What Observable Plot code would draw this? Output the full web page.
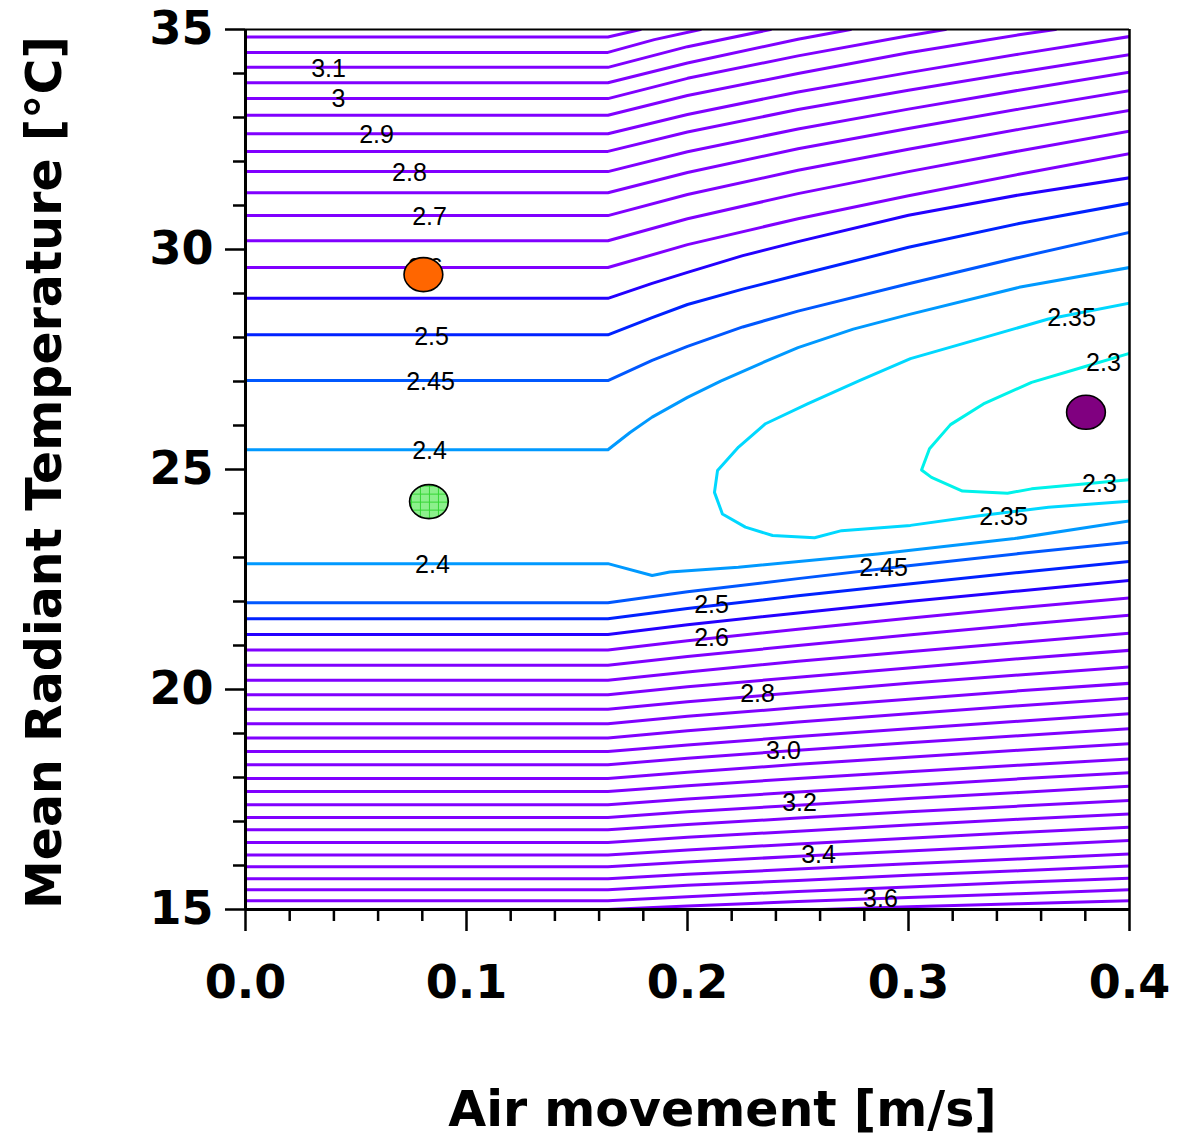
<!DOCTYPE html>
<html>
<head>
<meta charset="utf-8">
<script src="https://cdn.jsdelivr.net/npm/d3@7"></script>
<script src="https://cdn.jsdelivr.net/npm/@observablehq/plot@0.6"></script>
<style>
  body { margin: 0; background: #ffffff; }
  #chart svg { display: block; }
</style>
</head>
<body>
<svg width="0" height="0" style="position:absolute">
  <defs>
    <pattern id="greenGrid" width="9" height="8" patternUnits="userSpaceOnUse">
      <rect width="9" height="8" fill="#8cf08c"></rect>
      <path d="M0 0.5H9M0.5 0V8" stroke="#35d635" stroke-width="1"></path>
    </pattern>
  </defs>
</svg>
<div id="chart"></div>
<script>
// ---------- DATA ----------
// Air movement [m/s] sample positions for the regular contour lines
const gridX = [0, 0.164, 0.2, 0.25, 0.3, 0.35, 0.4];

// Upper purple contours that run across the whole plot
const upperLevels = [2.9, 2.85, 2.8, 2.75, 2.7, 2.65, 2.6];
const upperT = [
  [32.63, 32.63, 33.07, 33.58, 34.02, 34.44, 34.84],
  [32.23, 32.23, 32.67, 33.18, 33.62, 34.03, 34.43],
  [31.77, 31.77, 32.22, 32.74, 33.19, 33.62, 34.03],
  [31.29, 31.29, 31.75, 32.29, 32.75, 33.19, 33.61],
  [30.77, 30.77, 31.25, 31.80, 32.28, 32.73, 33.16],
  [30.20, 30.20, 30.70, 31.27, 31.77, 32.24, 32.69],
  [29.59, 29.59, 30.11, 30.70, 31.22, 31.71, 32.18]
];

// Upper contours that leave through the top of the plot
const exitLevels = [3.2, 3.15, 3.1, 3.05, 3.0, 2.95];
const exitX = [
  [0, 0.164, 0.1787],
  [0, 0.164, 0.185, 0.2059],
  [0, 0.164, 0.2, 0.2376],
  [0, 0.164, 0.2, 0.25, 0.2738],
  [0, 0.164, 0.2, 0.25, 0.3, 0.3167],
  [0, 0.164, 0.2, 0.25, 0.3, 0.35, 0.3665]
];
const exitT = [
  [34.83, 34.83, 35],
  [34.48, 34.48, 34.77, 35],
  [34.14, 34.14, 34.61, 35],
  [33.79, 33.79, 34.24, 34.78, 35],
  [33.43, 33.43, 33.89, 34.40, 34.86, 35],
  [33.05, 33.05, 33.50, 34.00, 34.47, 34.88, 35]
];

// Upper blue contours
const blueLevels = [2.55, 2.5, 2.45];
const blueX = [0, 0.164, 0.184, 0.2, 0.225, 0.25, 0.3, 0.35, 0.4];
const blueT = [
  [28.89, 28.89, 29.23, 29.48, 29.86, 30.18, 30.78, 31.24, 31.63],
  [28.06, 28.06, 28.45, 28.75, 29.10, 29.42, 30.05, 30.59, 31.05],
  [27.02, 27.02, 27.48, 27.80, 28.24, 28.60, 29.22, 29.82, 30.39]
];

// 2.4 contour, upper branch
const c240UpX = [0, 0.164, 0.174, 0.184, 0.2, 0.215, 0.235, 0.25, 0.275, 0.3, 0.35, 0.4];
const c240UpT = [25.45, 25.45, 25.84, 26.19, 26.64, 27.01, 27.45, 27.77, 28.19, 28.52, 29.14, 29.59];

// 2.4 contour, lower branch
const c240LowX = [0, 0.164, 0.184, 0.192, 0.223, 0.286, 0.348, 0.4];
const c240LowT = [22.86, 22.86, 22.59, 22.67, 22.78, 23.08, 23.43, 23.83];

// 2.35 contour (open loop)
const c235X = [0.4, 0.3633, 0.3321, 0.3009, 0.2778, 0.2543, 0.2353, 0.2231, 0.2136, 0.2122, 0.2158,
               0.2262, 0.2385, 0.2575, 0.2697, 0.3009, 0.3321, 0.3633, 0.4];
const c235T = [28.78, 28.42, 27.97, 27.52, 27.02, 26.49, 26.04, 25.51, 24.98, 24.48, 23.99,
               23.69, 23.50, 23.45, 23.61, 23.73, 23.95, 24.14, 24.28];

// 2.3 contour (open loop)
const c230X = [0.4, 0.3792, 0.3557, 0.3339, 0.3190, 0.3095, 0.3059, 0.3104, 0.3244, 0.3448, 0.3557, 0.3792, 0.4];
const c230T = [27.64, 27.33, 26.98, 26.49, 26.02, 25.47, 24.99, 24.82, 24.51, 24.46, 24.56, 24.67, 24.77];

// Lower contours
const lowerLevels = [2.45, 2.5, 2.55, 2.6, 2.65, 2.7, 2.75, 2.8, 2.85, 2.9, 2.95, 3.0,
                     3.05, 3.1, 3.15, 3.2, 3.25, 3.3, 3.35, 3.4, 3.45, 3.5, 3.55, 3.6];
const lowerT = [
  [21.97, 21.97, 22.22, 22.52, 22.81, 23.09, 23.35],
  [21.61, 21.61, 21.84, 22.13, 22.40, 22.66, 22.91],
  [21.25, 21.25, 21.47, 21.74, 22.00, 22.24, 22.48],
  [20.90, 20.90, 21.11, 21.37, 21.62, 21.86, 22.08],
  [20.55, 20.55, 20.75, 21.00, 21.24, 21.47, 21.69],
  [20.21, 20.21, 20.40, 20.64, 20.86, 21.07, 21.28],
  [19.88, 19.88, 20.06, 20.28, 20.49, 20.70, 20.89],
  [19.55, 19.55, 19.72, 19.93, 20.14, 20.33, 20.51],
  [19.22, 19.22, 19.39, 19.59, 19.78, 19.97, 20.14],
  [18.90, 18.90, 19.06, 19.26, 19.45, 19.63, 19.80],
  [18.59, 18.59, 18.74, 18.93, 19.11, 19.28, 19.45],
  [18.29, 18.29, 18.44, 18.62, 18.79, 18.95, 19.11],
  [17.98, 17.98, 18.12, 18.30, 18.46, 18.62, 18.77],
  [17.68, 17.68, 17.81, 17.98, 18.13, 18.28, 18.42],
  [17.38, 17.38, 17.51, 17.67, 17.82, 17.97, 18.11],
  [17.09, 17.09, 17.22, 17.37, 17.52, 17.66, 17.80],
  [16.81, 16.81, 16.93, 17.08, 17.22, 17.35, 17.48],
  [16.52, 16.52, 16.64, 16.78, 16.92, 17.05, 17.17],
  [16.24, 16.24, 16.35, 16.49, 16.62, 16.75, 16.87],
  [15.97, 15.97, 16.08, 16.21, 16.33, 16.45, 16.57],
  [15.70, 15.70, 15.80, 15.92, 16.04, 16.15, 16.26],
  [15.45, 15.45, 15.55, 15.66, 15.78, 15.88, 15.99],
  [15.20, 15.20, 15.29, 15.41, 15.51, 15.62, 15.71],
  [15.00, 15.00, 15.08, 15.18, 15.27, 15.36, 15.45]
];

// 3.65 contour entering from the bottom
const c365X = [0.2606, 0.3, 0.35, 0.4];
const c365T = [15.0, 15.06, 15.13, 15.20];

// Contour colours
const colorLevels = [2.3, 2.35, 2.4, 2.45, 2.5, 2.55];
const colorValues = ["#00f2ea", "#00d8ff", "#0099ff", "#0058ff", "#0022ff", "#2400ff"];
const purpleColor = "#8000ff";

// Contour labels
const labelText = ["3.1", "3", "2.9", "2.8", "2.7", "2.6", "2.5", "2.45", "2.4", "2.4",
                   "2.35", "2.3", "2.3", "2.35", "2.45", "2.5", "2.6", "2.8", "3.0", "3.2", "3.4", "3.6"];
const labelX = [0.0376, 0.0421, 0.0593, 0.0742, 0.0833, 0.0814, 0.0842, 0.0837, 0.0833, 0.0846,
                0.3738, 0.3882, 0.3864, 0.3430, 0.2887, 0.2109, 0.2109, 0.2317, 0.2434, 0.2507, 0.2593, 0.2873];
const labelT = [34.11, 33.41, 32.61, 31.75, 30.75, 29.59, 28.02, 27.00, 25.41, 22.82,
                28.45, 27.43, 24.68, 23.93, 22.77, 21.91, 21.18, 19.89, 18.61, 17.41, 16.23, 15.25];

// Measured points
const markerX = [0.0805, 0.0830, 0.3803];
const markerT = [29.43, 24.27, 26.30];
const markerFill = ["#ff6600", "url(#greenGrid)", "#800080"];

// Axis ticks
const xMajor = [0, 0.1, 0.2, 0.3, 0.4];
const xMinor = [0.02, 0.04, 0.06, 0.08, 0.12, 0.14, 0.16, 0.18, 0.22, 0.24, 0.26, 0.28, 0.32, 0.34, 0.36, 0.38];
const yMajor = [15, 20, 25, 30, 35];
const yMinor = [16, 17, 18, 19, 21, 22, 23, 24, 26, 27, 28, 29, 31, 32, 33, 34];

// ---------- BUILD TABLES ----------
function levelColor(level) {
  const i = colorLevels.findIndex(l => Math.abs(l - level) < 1e-6);
  return i >= 0 ? colorValues[i] : purpleColor;
}
const rows = [];
let lineId = 0;
function addLine(level, xs, ts) {
  const id = lineId++;
  xs.forEach((x, i) => rows.push({id, level, ax: x, mrt: ts[i], color: levelColor(level)}));
}
upperLevels.forEach((l, i) => addLine(l, gridX, upperT[i]));
exitLevels.forEach((l, i) => addLine(l, exitX[i], exitT[i]));
blueLevels.forEach((l, i) => addLine(l, blueX, blueT[i]));
addLine(2.4, c240UpX, c240UpT);
addLine(2.4, c240LowX, c240LowT);
addLine(2.35, c235X, c235T);
addLine(2.3, c230X, c230T);
lowerLevels.forEach((l, i) => addLine(l, gridX, lowerT[i]));
addLine(3.65, c365X, c365T);

const labels = labelText.map((t, i) => ({text: t, ax: labelX[i], mrt: labelT[i]}));
const markers = markerX.map((x, i) => ({ax: x, mrt: markerT[i], fill: markerFill[i]}));

// ellipse symbol (points are slightly wider than tall)
const ellipse = {
  draw(ctx, size) {
    const r = Math.sqrt(size / Math.PI), rx = r * 1.14, ry = r;
    const k = 0.5523, kx = rx * k, ky = ry * k;
    ctx.moveTo(rx, 0);
    ctx.bezierCurveTo(rx, ky, kx, ry, 0, ry);
    ctx.bezierCurveTo(-kx, ry, -rx, ky, -rx, 0);
    ctx.bezierCurveTo(-rx, -ky, -kx, -ry, 0, -ry);
    ctx.bezierCurveTo(kx, -ry, rx, -ky, rx, 0);
    ctx.closePath();
  }
};

const tickFont = "DejaVu Sans, Verdana, sans-serif";

const chart = Plot.plot({
  width: 1182,
  height: 1143,
  marginLeft: 245,
  marginRight: 53,
  marginTop: 29,
  marginBottom: 234,
  x: {domain: [0, 0.4], label: null},
  y: {domain: [15, 35], label: null},
  color: {type: "identity"},
  style: {background: "#ffffff", color: "#000000"},
  marks: [
    Plot.line(rows, {x: "ax", y: "mrt", z: "id", stroke: "color", strokeWidth: 3, curve: "linear", clip: true}),
    Plot.text(labels, {x: "ax", y: "mrt", text: "text", fontSize: 25, fontFamily: "Liberation Sans, Arial, sans-serif", fill: "#000000"}),
    Plot.dot(markers, {x: "ax", y: "mrt", fill: "fill", r: 17, symbol: ellipse, stroke: "#000000", strokeWidth: 1.6}),
    // frame
    Plot.ruleY([35], {stroke: "#000000", strokeWidth: 2}),
    Plot.ruleX([0.4], {stroke: "#000000", strokeWidth: 2.5}),
    Plot.ruleX([0], {stroke: "#000000", strokeWidth: 3}),
    Plot.ruleY([15], {stroke: "#000000", strokeWidth: 3}),
    // axes
    Plot.axisX(xMajor, {tickSize: 22, tickPadding: 34, tickFormat: d => d.toFixed(1), fontSize: 46, fontWeight: "bold", fontFamily: tickFont, strokeWidth: 2.5, label: null}),
    Plot.axisX(xMinor, {tickSize: 12, tickFormat: () => "", strokeWidth: 2.5, label: null}),
    Plot.axisY(yMajor, {tickSize: 20, tickPadding: 12, tickFormat: d => String(d), fontSize: 46, fontWeight: "bold", fontFamily: tickFont, strokeWidth: 2.5, label: null}),
    Plot.axisY(yMinor, {tickSize: 12, tickFormat: () => "", strokeWidth: 2.5, label: null}),
    // axis titles
    Plot.text(["Mean Radiant Temperature [°C]"], {frameAnchor: "left", text: d => d, rotate: -90, textAnchor: "middle", lineAnchor: "middle", dx: -200, dy: 3, fontSize: 49, fontWeight: "bold", fontFamily: tickFont, fill: "#000000"}),
    Plot.text(["Air movement [m/s]"], {frameAnchor: "bottom", text: d => d, textAnchor: "middle", lineAnchor: "middle", dx: 35, dy: 201, fontSize: 49, fontWeight: "bold", fontFamily: tickFont, fill: "#000000"})
  ]
});
document.getElementById("chart").appendChild(chart);
</script>
</body>
</html>
